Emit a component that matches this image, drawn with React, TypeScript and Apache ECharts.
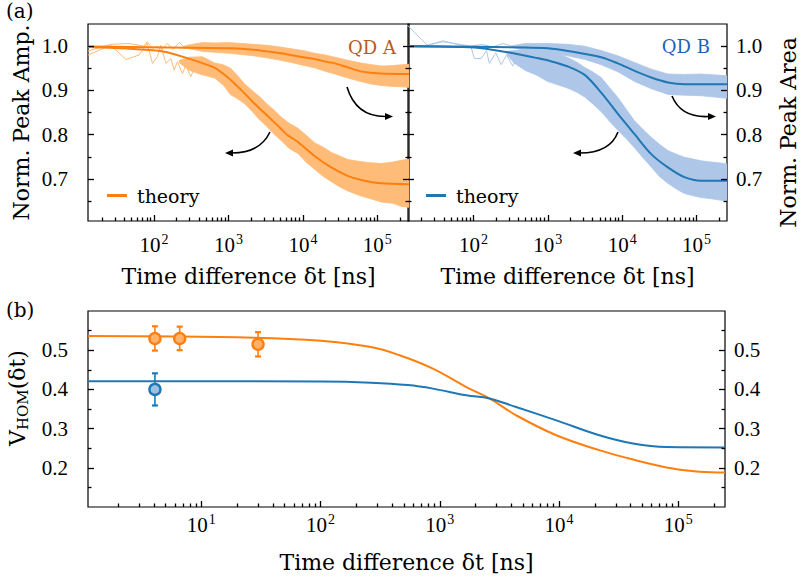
import React, { useEffect, useRef } from 'react';
import * as echarts from 'echarts';

const NUM_FONT = 'Liberation Serif';
const TXT_FONT = 'DejaVu Serif';
const ORANGE = '#ff7f0e';
const ORANGE_LIGHT = '#ffbb78';
const BLUE = '#1f77b4';
const BLUE_LIGHT = '#aec7e8';

// ---------------- panel (a), QD A ----------------
const qdA_ampTheoryT = [13, 131, 615, 1000, 1500, 2124, 3000, 4000, 5100, 6100, 8500, 14300, 24000, 40000, 67600, 113000, 266000];
const qdA_ampTheoryV = [0.998, 0.988, 0.953, 0.928, 0.9, 0.874, 0.85, 0.83, 0.813, 0.8, 0.784, 0.752, 0.726, 0.707, 0.696, 0.69, 0.688];
const qdA_areaTheoryT = [13, 1000, 1800, 3000, 5000, 10000, 14300, 20000, 27000, 40000, 60000, 110000, 266000];
const qdA_areaTheoryV = [0.999, 0.995, 0.993, 0.989, 0.984, 0.975, 0.971, 0.965, 0.961, 0.952, 0.943, 0.938, 0.937];

const qdA_ampBandT = [220, 300, 450, 650, 850, 1070, 1300, 1640, 2100, 2600, 3200, 4000, 5100, 6500, 8500, 11000, 14300, 19000, 24000, 32000, 40000, 55000, 75000, 113000, 160000, 210000, 266000];
const qdA_ampBandLo = [0.962, 0.945, 0.935, 0.928, 0.912, 0.89, 0.882, 0.87, 0.852, 0.834, 0.82, 0.803, 0.787, 0.769, 0.758, 0.738, 0.722, 0.705, 0.694, 0.681, 0.673, 0.664, 0.657, 0.648, 0.645, 0.638, 0.636];
const qdA_ampBandHi = [0.968, 0.975, 0.976, 0.962, 0.958, 0.95, 0.935, 0.915, 0.899, 0.886, 0.871, 0.857, 0.84, 0.826, 0.815, 0.799, 0.782, 0.771, 0.76, 0.751, 0.744, 0.74, 0.737, 0.735, 0.738, 0.742, 0.745];
const qdA_areaBandT = [250, 350, 450, 650, 1000, 1500, 2200, 3200, 5000, 7000, 10000, 14300, 20000, 27000, 40000, 60000, 85000, 115000, 160000, 210000, 266000];
const qdA_areaBandLo = [0.996, 0.992, 0.988, 0.986, 0.984, 0.981, 0.978, 0.974, 0.968, 0.963, 0.957, 0.951, 0.943, 0.937, 0.928, 0.92, 0.914, 0.911, 0.909, 0.908, 0.907];
const qdA_areaBandHi = [1.0, 1.005, 1.008, 1.007, 1.008, 1.006, 1.004, 1.002, 0.998, 0.994, 0.99, 0.984, 0.98, 0.975, 0.968, 0.962, 0.958, 0.955, 0.956, 0.958, 0.959];

const qdA_ampRawT = [13, 26, 42, 63, 81, 95, 111, 123, 144, 168, 186, 206, 241, 267, 311, 350];
const qdA_ampRawV = [0.98, 1.002, 0.97, 0.98, 1.006, 0.961, 0.976, 1.002, 0.961, 0.972, 0.946, 0.965, 0.938, 0.957, 0.931, 0.95];
const qdA_areaRawT = [13, 26, 46, 73, 81, 95, 111, 123, 150, 180, 220, 260, 300];
const qdA_areaRawV = [0.989, 1.004, 1.006, 1.0, 1.01, 0.995, 1.0, 0.99, 1.006, 0.993, 1.008, 0.995, 1.004];

// ---------------- panel (a), QD B ----------------
const qdB_ampTheoryT = [13, 104, 293, 670, 1100, 1870, 3140, 5230, 8770, 14720, 24600, 41200, 68800, 115000, 257000];
const qdB_ampTheoryV = [1.0, 0.997, 0.986, 0.974, 0.966, 0.954, 0.935, 0.895, 0.847, 0.801, 0.756, 0.726, 0.704, 0.696, 0.696];
const qdB_areaTheoryT = [13, 500, 1000, 1870, 5230, 8770, 14720, 24600, 41200, 68800, 257000];
const qdB_areaTheoryV = [1.0, 0.997, 0.995, 0.989, 0.975, 0.961, 0.944, 0.929, 0.918, 0.914, 0.914];

const qdB_ampBandT = [280, 350, 500, 700, 1000, 1400, 1870, 2500, 3140, 4000, 5230, 6800, 8770, 11500, 14720, 19000, 24600, 32000, 41200, 55000, 68800, 90000, 115000, 160000, 210000, 257000];
const qdB_ampBandLo = [0.982, 0.962, 0.945, 0.935, 0.92, 0.912, 0.905, 0.895, 0.885, 0.87, 0.852, 0.83, 0.81, 0.79, 0.77, 0.748, 0.727, 0.705, 0.69, 0.676, 0.667, 0.662, 0.658, 0.655, 0.652, 0.651];
const qdB_ampBandHi = [0.988, 0.99, 0.992, 0.99, 0.988, 0.982, 0.974, 0.963, 0.952, 0.942, 0.929, 0.906, 0.884, 0.856, 0.831, 0.812, 0.794, 0.778, 0.764, 0.755, 0.749, 0.745, 0.741, 0.738, 0.736, 0.734];
const qdB_areaBandT = [330, 500, 1000, 1870, 3140, 5230, 8770, 14720, 24600, 41200, 68800, 115000, 257000];
const qdB_areaBandLo = [0.997, 0.99, 0.984, 0.978, 0.97, 0.958, 0.942, 0.92, 0.904, 0.891, 0.889, 0.888, 0.882];
const qdB_areaBandHi = [1.001, 1.006, 1.006, 1.004, 1.0, 0.99, 0.978, 0.963, 0.948, 0.937, 0.936, 0.937, 0.933];

const qdB_ampRawT = [13, 24, 39, 60, 93, 103, 127, 150, 164, 200, 236, 280, 338, 380];
const qdB_ampRawV = [1.047, 1.002, 1.012, 1.004, 0.998, 0.972, 0.972, 0.99, 0.961, 0.985, 0.958, 0.98, 0.955, 0.975];
const qdB_areaRawT = [13, 24, 39, 60, 93, 130, 180, 250, 330];
const qdB_areaRawV = [1.0, 1.002, 1.01, 1.005, 1.0, 1.004, 0.998, 1.006, 1.0];

// ---------------- panel (b) ----------------
const hom_orangeT = [1.12, 27.8, 101, 265, 460, 875, 1670, 2610, 4370, 9500, 21800, 41800, 90000, 150000, 247000];
const hom_orangeV = [0.536, 0.532, 0.524, 0.508, 0.487, 0.453, 0.406, 0.377, 0.334, 0.283, 0.245, 0.221, 0.198, 0.19, 0.188];
const hom_blueT = [1.12, 101, 265, 539, 875, 1670, 2610, 4370, 9500, 21800, 41800, 80000, 247000];
const hom_blueV = [0.421, 0.42, 0.417, 0.411, 0.402, 0.385, 0.377, 0.355, 0.321, 0.283, 0.262, 0.253, 0.252];

const pts_orangeT = [4.08, 6.58, 29.9];
const pts_orangeV = [0.53, 0.53, 0.515];
const pts_orangeErr = [0.031, 0.03, 0.031];
const pts_blueT = [4.08];
const pts_blueV = [0.4];
const pts_blueErr = [0.041];

// ---------------- axis ranges & ticks ----------------
const xRangeA = [12.95, 266000];
const xRangeB = [13.2, 257000];
const xRangeHom = [1.12, 247000];
const yRangeTop = [0.605, 1.05];
const yRangeHom = [0.1, 0.6];
const topMajorX = [100, 1000, 10000, 100000];
const bottomMajorX = [10, 100, 1000, 10000, 100000];
const decades = [1, 10, 100, 1000, 10000, 100000];
const minorMult = [2, 3, 4, 5, 6, 7, 8, 9];
const minorX = decades.flatMap((d) => minorMult.map((k) => k * d));
const topMajorY = [0.7, 0.8, 0.9, 1.0];
const topMinorY = [0.65, 0.75, 0.85, 0.95];
const bottomMajorY = [0.2, 0.3, 0.4, 0.5];
const bottomMinorY = [0.15, 0.25, 0.35, 0.45, 0.55];

const GRID_A = { left: 88, top: 24, width: 321, height: 197 };
const GRID_B = { left: 408, top: 24, width: 319, height: 197 };
const GRID_H = { left: 88, top: 311, width: 637, height: 196 };

const zip = (t: number[], v: number[]) => t.map((x, i) => [x, v[i]]);

function xAxis(gridIndex: number, range: number[], majors: number[], name: string, labelMargin: number) {
  return {
    type: 'log', logBase: 10, gridIndex, min: range[0], max: range[1], position: 'bottom',
    axisLine: { show: false }, splitLine: { show: false }, axisTick: { show: false },
    axisLabel: {
      show: true, customValues: majors, margin: labelMargin,
      formatter: (v: number) => `{b|10}{s|${Math.round(Math.log10(v))}}`,
      rich: {
        b: { fontFamily: NUM_FONT, fontSize: 21, color: '#000' },
        s: { fontFamily: NUM_FONT, fontSize: 14, color: '#000', padding: [0, 0, 12, 1] },
      },
    },
    name, nameLocation: 'middle', nameGap: 44,
    nameTextStyle: { fontFamily: TXT_FONT, fontSize: 22, color: '#000' },
  };
}

function yAxis(gridIndex: number, position: string, range: number[], values: number[] | null, labelMargin: number, extra?: any) {
  return {
    type: 'value', gridIndex, position, min: range[0], max: range[1],
    axisLine: { show: false }, splitLine: { show: false }, axisTick: { show: false },
    axisLabel: values
      ? { show: true, customValues: values, margin: labelMargin, formatter: (v: number) => v.toFixed(1), fontFamily: NUM_FONT, fontSize: 21, color: '#000' }
      : { show: false },
    ...(extra || {}),
  };
}

// inward tick marks as short segments in data space (lines series on the panel's own axes)
function tickLines(xi: number, yi: number, xRange: number[], yRange: number[], grid: any,
  xMaj: number[], xMin: number[], yMaj: number[], yMin: number[]) {
  const yPerPx = (yRange[1] - yRange[0]) / grid.height;
  const decPerPx = (Math.log10(xRange[1]) - Math.log10(xRange[0])) / grid.width;
  const segs: any[] = [];
  const xs = (vals: number[], len: number) => vals
    .filter((v) => v > xRange[0] && v < xRange[1])
    .forEach((v) => segs.push({ coords: [[v, yRange[0]], [v, yRange[0] + len * yPerPx]] }));
  const ys = (vals: number[], len: number) => vals.forEach((v) => {
    const f = Math.pow(10, len * decPerPx);
    segs.push({ coords: [[xRange[0], v], [xRange[0] * f, v]] });
    segs.push({ coords: [[xRange[1], v], [xRange[1] / f, v]] });
  });
  xs(xMaj, 6);
  xs(xMin, 3.5);
  ys(yMaj, 6);
  ys(yMin, 3.5);
  return {
    type: 'lines', coordinateSystem: 'cartesian2d', xAxisIndex: xi, yAxisIndex: yi, z: 6,
    data: segs, symbol: 'none', clip: false, silent: true,
    lineStyle: { color: '#000', width: 1.3, opacity: 1, curveness: 0 },
  };
}

function band(t: number[], lo: number[], hi: number[], color: string, xi: number, yi: number) {
  return {
    type: 'custom', xAxisIndex: xi, yAxisIndex: yi, z: 1, silent: true,
    data: t.map((x, i) => [x, lo[i], hi[i]]),
    encode: { x: 0, y: [1, 2] },
    renderItem: (params: any, api: any) => {
      if (params.dataIndex !== 0) return null;
      const upper = t.map((x, i) => api.coord([x, hi[i]]));
      const lower = t.map((x, i) => api.coord([x, lo[i]])).reverse();
      const cs = params.coordSys;
      return {
        type: 'polygon',
        shape: { points: upper.concat(lower) },
        style: { fill: color, stroke: color, lineWidth: 0.8 },
        clipPath: { type: 'rect', shape: { x: cs.x, y: cs.y, width: cs.width, height: cs.height } },
      };
    },
  };
}

function thin(t: number[], v: number[], color: string, xi: number, yi: number) {
  return {
    type: 'line', xAxisIndex: xi, yAxisIndex: yi, data: zip(t, v), symbol: 'none',
    lineStyle: { width: 1, color }, silent: true, z: 2,
  };
}

function theory(name: string, t: number[], v: number[], color: string, xi: number, yi: number, smooth: number) {
  return {
    type: 'line', name, xAxisIndex: xi, yAxisIndex: yi, data: zip(t, v), symbol: 'none', smooth,
    lineStyle: { width: 2, color }, itemStyle: { color }, z: 3,
  };
}

function errorBars(t: number[], v: number[], err: number[], color: string) {
  return {
    type: 'custom', xAxisIndex: 2, yAxisIndex: 3, z: 4,
    data: t.map((x, i) => [x, v[i], err[i]]),
    encode: { x: 0, y: 1 },
    renderItem: (params: any, api: any) => {
      const x = api.value(0), y = api.value(1), e = api.value(2);
      const top = api.coord([x, y + e]);
      const bot = api.coord([x, y - e]);
      const w = 3;
      return {
        type: 'group',
        children: [
          { type: 'line', shape: { x1: top[0], y1: top[1], x2: bot[0], y2: bot[1] }, style: { stroke: color, lineWidth: 1.6 } },
          { type: 'line', shape: { x1: top[0] - w, y1: top[1], x2: top[0] + w, y2: top[1] }, style: { stroke: color, lineWidth: 2.2 } },
          { type: 'line', shape: { x1: bot[0] - w, y1: bot[1], x2: bot[0] + w, y2: bot[1] }, style: { stroke: color, lineWidth: 2.2 } },
        ],
      };
    },
  };
}

function points(t: number[], v: number[], fill: string, edge: string) {
  return {
    type: 'scatter', xAxisIndex: 2, yAxisIndex: 3, z: 5, data: zip(t, v), symbol: 'circle', symbolSize: 11,
    itemStyle: { color: fill, borderColor: edge, borderWidth: 2.4, opacity: 1 },
  };
}

function arrow(x0: number, y0: number, cx: number, cy: number, x1: number, y1: number, dir: number) {
  const tip = x1 + dir * 7;
  return [
    { type: 'bezierCurve', shape: { x1: x0, y1: y0, cpx1: cx, cpy1: cy, x2: x1, y2: y1 }, style: { stroke: '#000', lineWidth: 1.6, fill: null }, z: 10 },
    { type: 'polygon', shape: { points: [[tip, y1], [x1 - dir * 1, y1 - 3.5], [x1 - dir * 1, y1 + 3.5]] }, style: { fill: '#000' }, z: 10 },
  ];
}

export default function App() {
  const ref = useRef<HTMLDivElement>(null);
  useEffect(() => {
    if (!ref.current) return;
    const chart = echarts.init(ref.current, undefined, { renderer: 'svg' });
    const gridBase = { show: true, borderColor: '#000', borderWidth: 1.2, backgroundColor: 'transparent', containLabel: false, outerBoundsMode: 'none' };
    const nameStyle = { fontFamily: TXT_FONT, fontSize: 22, color: '#000' };
    const option: any = {
      animation: false,
      backgroundColor: '#fff',
      grid: [
        { ...gridBase, ...GRID_A },
        { ...gridBase, ...GRID_B },
        { ...gridBase, ...GRID_H },
      ],
      xAxis: [
        xAxis(0, xRangeA, topMajorX, 'Time difference δt [ns]', 11),
        xAxis(1, xRangeB, topMajorX, 'Time difference δt [ns]', 11),
        xAxis(2, xRangeHom, bottomMajorX, 'Time difference δt [ns]', 5),
      ],
      yAxis: [
        yAxis(0, 'left', yRangeTop, topMajorY, 20, {
          name: 'Norm. Peak Amp.', nameLocation: 'middle', nameGap: 56, nameRotate: 90, nameTextStyle: nameStyle,
        }),
        yAxis(1, 'left', yRangeTop, null, 0),
        yAxis(1, 'right', yRangeTop, topMajorY, 9, {
          name: 'Norm. Peak Area', nameLocation: 'middle', nameGap: 50, nameRotate: 90,
          nameTextStyle: { ...nameStyle, padding: [0, 20, 0, 0] },
        }),
        yAxis(2, 'left', yRangeHom, bottomMajorY, 20, {
          name: '{v|V}{sub|HOM}{v|(δt)}', nameLocation: 'middle', nameGap: 56, nameRotate: 90,
          nameTextStyle: {
            ...nameStyle,
            padding: [0, 0, 0, 22],
            rich: {
              v: { fontFamily: TXT_FONT, fontSize: 22, color: '#000' },
              sub: { fontFamily: TXT_FONT, fontSize: 15, color: '#000', padding: [12, 0, 0, 0] },
            },
          },
        }),
        yAxis(2, 'right', yRangeHom, bottomMajorY, 9),
      ],
      legend: [
        {
          left: 102, top: 181, data: ['theoryA'], formatter: () => 'theory', icon: 'rect', itemWidth: 20, itemHeight: 3,
          textStyle: { fontFamily: TXT_FONT, fontSize: 19, color: '#000', padding: [0, 0, 0, 5] }, selectedMode: false,
        },
        {
          left: 421, top: 181, data: ['theoryB'], formatter: () => 'theory', icon: 'rect', itemWidth: 20, itemHeight: 3,
          textStyle: { fontFamily: TXT_FONT, fontSize: 19, color: '#000', padding: [0, 0, 0, 5] }, selectedMode: false,
        },
      ],
      series: [
        // QD A
        band(qdA_ampBandT, qdA_ampBandLo, qdA_ampBandHi, ORANGE_LIGHT, 0, 0),
        band(qdA_areaBandT, qdA_areaBandLo, qdA_areaBandHi, ORANGE_LIGHT, 0, 0),
        thin(qdA_ampRawT, qdA_ampRawV, ORANGE_LIGHT, 0, 0),
        thin(qdA_areaRawT, qdA_areaRawV, ORANGE_LIGHT, 0, 0),
        theory('theoryA', qdA_ampTheoryT, qdA_ampTheoryV, ORANGE, 0, 0, 0.2),
        theory('theoryA2', qdA_areaTheoryT, qdA_areaTheoryV, ORANGE, 0, 0, 0.3),
        // QD B
        band(qdB_ampBandT, qdB_ampBandLo, qdB_ampBandHi, BLUE_LIGHT, 1, 1),
        band(qdB_areaBandT, qdB_areaBandLo, qdB_areaBandHi, BLUE_LIGHT, 1, 1),
        thin(qdB_ampRawT, qdB_ampRawV, BLUE_LIGHT, 1, 1),
        thin(qdB_areaRawT, qdB_areaRawV, BLUE_LIGHT, 1, 1),
        theory('theoryB', qdB_ampTheoryT, qdB_ampTheoryV, BLUE, 1, 1, 0.3),
        theory('theoryB2', qdB_areaTheoryT, qdB_areaTheoryV, BLUE, 1, 1, 0.3),
        // panel (b)
        theory('homOrange', hom_orangeT, hom_orangeV, ORANGE, 2, 3, 0.4),
        theory('homBlue', hom_blueT, hom_blueV, BLUE, 2, 3, 0.4),
        errorBars(pts_orangeT, pts_orangeV, pts_orangeErr, ORANGE),
        errorBars(pts_blueT, pts_blueV, pts_blueErr, BLUE),
        points(pts_orangeT, pts_orangeV, '#ffb26e', ORANGE),
        points(pts_blueT, pts_blueV, '#9dc0e2', BLUE),
        // tick marks
        tickLines(0, 0, xRangeA, yRangeTop, GRID_A, topMajorX, minorX, topMajorY, topMinorY),
        tickLines(1, 1, xRangeB, yRangeTop, GRID_B, topMajorX, minorX, topMajorY, topMinorY),
        tickLines(2, 3, xRangeHom, yRangeHom, GRID_H, bottomMajorX, minorX, bottomMajorY, bottomMinorY),
      ],
      graphic: [
        { type: 'text', left: 6, top: 1, style: { text: '(a)', fontFamily: TXT_FONT, fontSize: 20, fill: '#000' } },
        { type: 'text', left: 6, top: 300, style: { text: '(b)', fontFamily: TXT_FONT, fontSize: 20, fill: '#000' } },
        { type: 'text', x: 396, y: 47, style: { text: 'QD A', fontFamily: TXT_FONT, fontSize: 18, fill: '#b65a1f', align: 'right', verticalAlign: 'middle' } },
        { type: 'text', x: 710, y: 46, style: { text: 'QD B', fontFamily: TXT_FONT, fontSize: 18, fill: '#1f62b8', align: 'right', verticalAlign: 'middle' } },
        ...arrow(270, 132, 260, 153, 232, 153, -1),
        ...arrow(347, 87, 356, 117, 386, 116.5, 1),
        ...arrow(618, 132, 610, 153, 580, 153, -1),
        ...arrow(672, 96, 681, 118, 709, 116.5, 1),
      ],
    };
    chart.setOption(option);
    return () => chart.dispose();
  }, []);
  return <div ref={ref} style={{ position: 'fixed', left: 0, top: 0, width: 810, height: 580, background: '#fff' }} />;
}
